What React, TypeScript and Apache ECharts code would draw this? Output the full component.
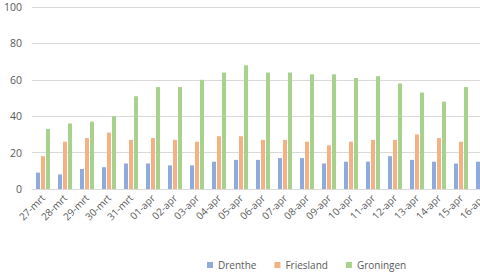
import React, { useEffect, useRef } from "react";
import * as echarts from "echarts";

const categories = [
  "27-mrt", "28-mrt", "29-mrt", "30-mrt", "31-mrt",
  "01-apr", "02-apr", "03-apr", "04-apr", "05-apr", "06-apr", "07-apr",
  "08-apr", "09-apr", "10-apr", "11-apr", "12-apr", "13-apr", "14-apr",
  "15-apr", "16-apr", "17-apr",
];
const drenthe = [9, 8, 11, 12, 14, 14, 13, 13, 15, 16, 16, 17, 17, 14, 15, 15, 18, 16, 15, 14, 15, 15];
const friesland = [18, 26, 28, 31, 27, 28, 27, 26, 29, 29, 27, 27, 26, 24, 26, 27, 27, 30, 28, 26, 26, 27];
const groningen = [33, 36, 37, 40, 51, 56, 56, 60, 64, 68, 64, 64, 63, 63, 61, 62, 58, 53, 48, 56, 52, 50];
const yTicks = { min: 0, max: 100, interval: 20 };

const seriesNames = ["Drenthe", "Friesland", "Groningen"];
const colors = ["#8faadc", "#f4b183", "#a9d18e"];

export default function App() {
  const ref = useRef<HTMLDivElement>(null);
  useEffect(() => {
    if (!ref.current) return;
    const chart = echarts.init(ref.current, null, { renderer: "svg" });
    const font = "'Open Sans', 'Noto Sans', sans-serif";
    const data = [drenthe, friesland, groningen];
    chart.setOption({
      animation: false,
      textStyle: { fontFamily: font },
      grid: { left: 32, right: 0, top: 7, bottom: 90, containLabel: false },
      legend: {
        left: 202,
        top: 253,
        itemWidth: 6,
        itemHeight: 6,
        itemGap: 18,
        icon: "rect",
        textStyle: { fontSize: 10, color: "#595959", fontFamily: font, lineHeight: 14 },
        data: seriesNames,
      },
      xAxis: {
        type: "category",
        data: categories,
        axisLine: { lineStyle: { color: "#d9d9d9" } },
        axisTick: { show: false },
        axisLabel: {
          rotate: 45,
          interval: 0,
          margin: 7,
          fontSize: 10,
          color: "#595959",
          fontFamily: font,
        },
      },
      yAxis: {
        type: "value",
        min: yTicks.min,
        max: yTicks.max,
        interval: yTicks.interval,
        axisLine: { show: false },
        axisTick: { show: false },
        splitLine: { lineStyle: { color: "#d9d9d9", width: 1 } },
        axisLabel: { margin: 10, fontSize: 10.5, color: "#595959", fontFamily: font },
      },
      series: seriesNames.map((name, i) => ({
        name,
        type: "bar",
        data: data[i],
        barWidth: 4,
        barGap: "25%",
        itemStyle: { color: colors[i] },
      })),
    });
    return () => chart.dispose();
  }, []);
  return (
    <div
      style={{ position: "absolute", left: 0, top: 0, width: 480, height: 279, overflow: "hidden", background: "#fff" }}
    >
      <div ref={ref} style={{ width: 516, height: 279 }} />
    </div>
  );
}
